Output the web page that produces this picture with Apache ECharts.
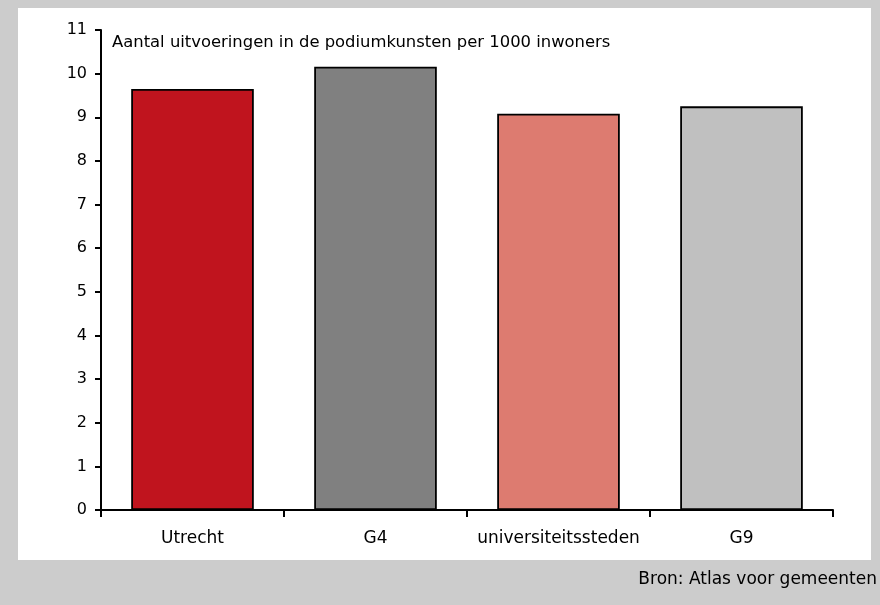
<!doctype html>
<html>
<head>
<meta charset="UTF-8">
<title>Podiumkunsten</title>
<script src="https://cdn.jsdelivr.net/npm/echarts@6/dist/echarts.min.js"></script>
<style>
  html, body { margin: 0; padding: 0; background: #cccccc; }
  #main { width: 880px; height: 605px; }
</style>
</head>
<body>
<div id="main"></div>
<script>
// data
var categories = ['Utrecht', 'G4', 'universiteitssteden', 'G9'];
var values = [9.65, 10.16, 9.08, 9.25];
var barColors = ['#c0141e', '#808080', '#dd7b70', '#c0c0c0'];
var yTicks = [0, 1, 2, 3, 4, 5, 6, 7, 8, 9, 10, 11];

var chartTitle = 'Aantal uitvoeringen in de podiumkunsten per 1000 inwoners';
var sourceText = 'Bron: Atlas voor gemeenten';

var font = '"DejaVu Sans", "Noto Sans", sans-serif';

var myChart = echarts.init(document.getElementById('main'));

var option = {
    backgroundColor: '#cccccc',
    animation: false,
    graphic: [
        {
            type: 'rect',
            z: -10,
            shape: { x: 18, y: 8, width: 853, height: 552 },
            style: { fill: '#ffffff' }
        },
        {
            type: 'text',
            left: 112,
            top: 35,
            style: { text: chartTitle, font: '16.4px ' + font, fill: '#000' }
        },
        {
            type: 'text',
            right: 3,
            top: 571,
            style: { text: sourceText, font: '17px ' + font, fill: '#000' }
        }
    ],
    grid: {
        left: 101,
        right: 47,
        top: 30,
        bottom: 95
    },
    xAxis: {
        type: 'category',
        data: categories,
        axisLine: { lineStyle: { color: '#000', width: 2 } },
        axisTick: { show: true, interval: 0, length: 7, lineStyle: { color: '#000', width: 2 } },
        axisLabel: { interval: 0, color: '#000', fontSize: 17, fontFamily: font, margin: 20 }
    },
    yAxis: {
        type: 'value',
        min: yTicks[0],
        max: yTicks[yTicks.length - 1],
        interval: 1,
        splitLine: { show: false },
        axisLine: { show: true, lineStyle: { color: '#000', width: 2 } },
        axisTick: { show: true, length: 6, lineStyle: { color: '#000', width: 2 } },
        axisLabel: { color: '#000', fontSize: 16, fontFamily: font, margin: 14 }
    },
    series: [
        {
            type: 'bar',
            barCategoryGap: '33%',
            data: values.map(function (v, i) {
                return {
                    value: v,
                    itemStyle: { color: barColors[i], borderColor: '#000', borderWidth: 1.8 }
                };
            })
        }
    ]
};

myChart.setOption(option);
</script>
</body>
</html>
